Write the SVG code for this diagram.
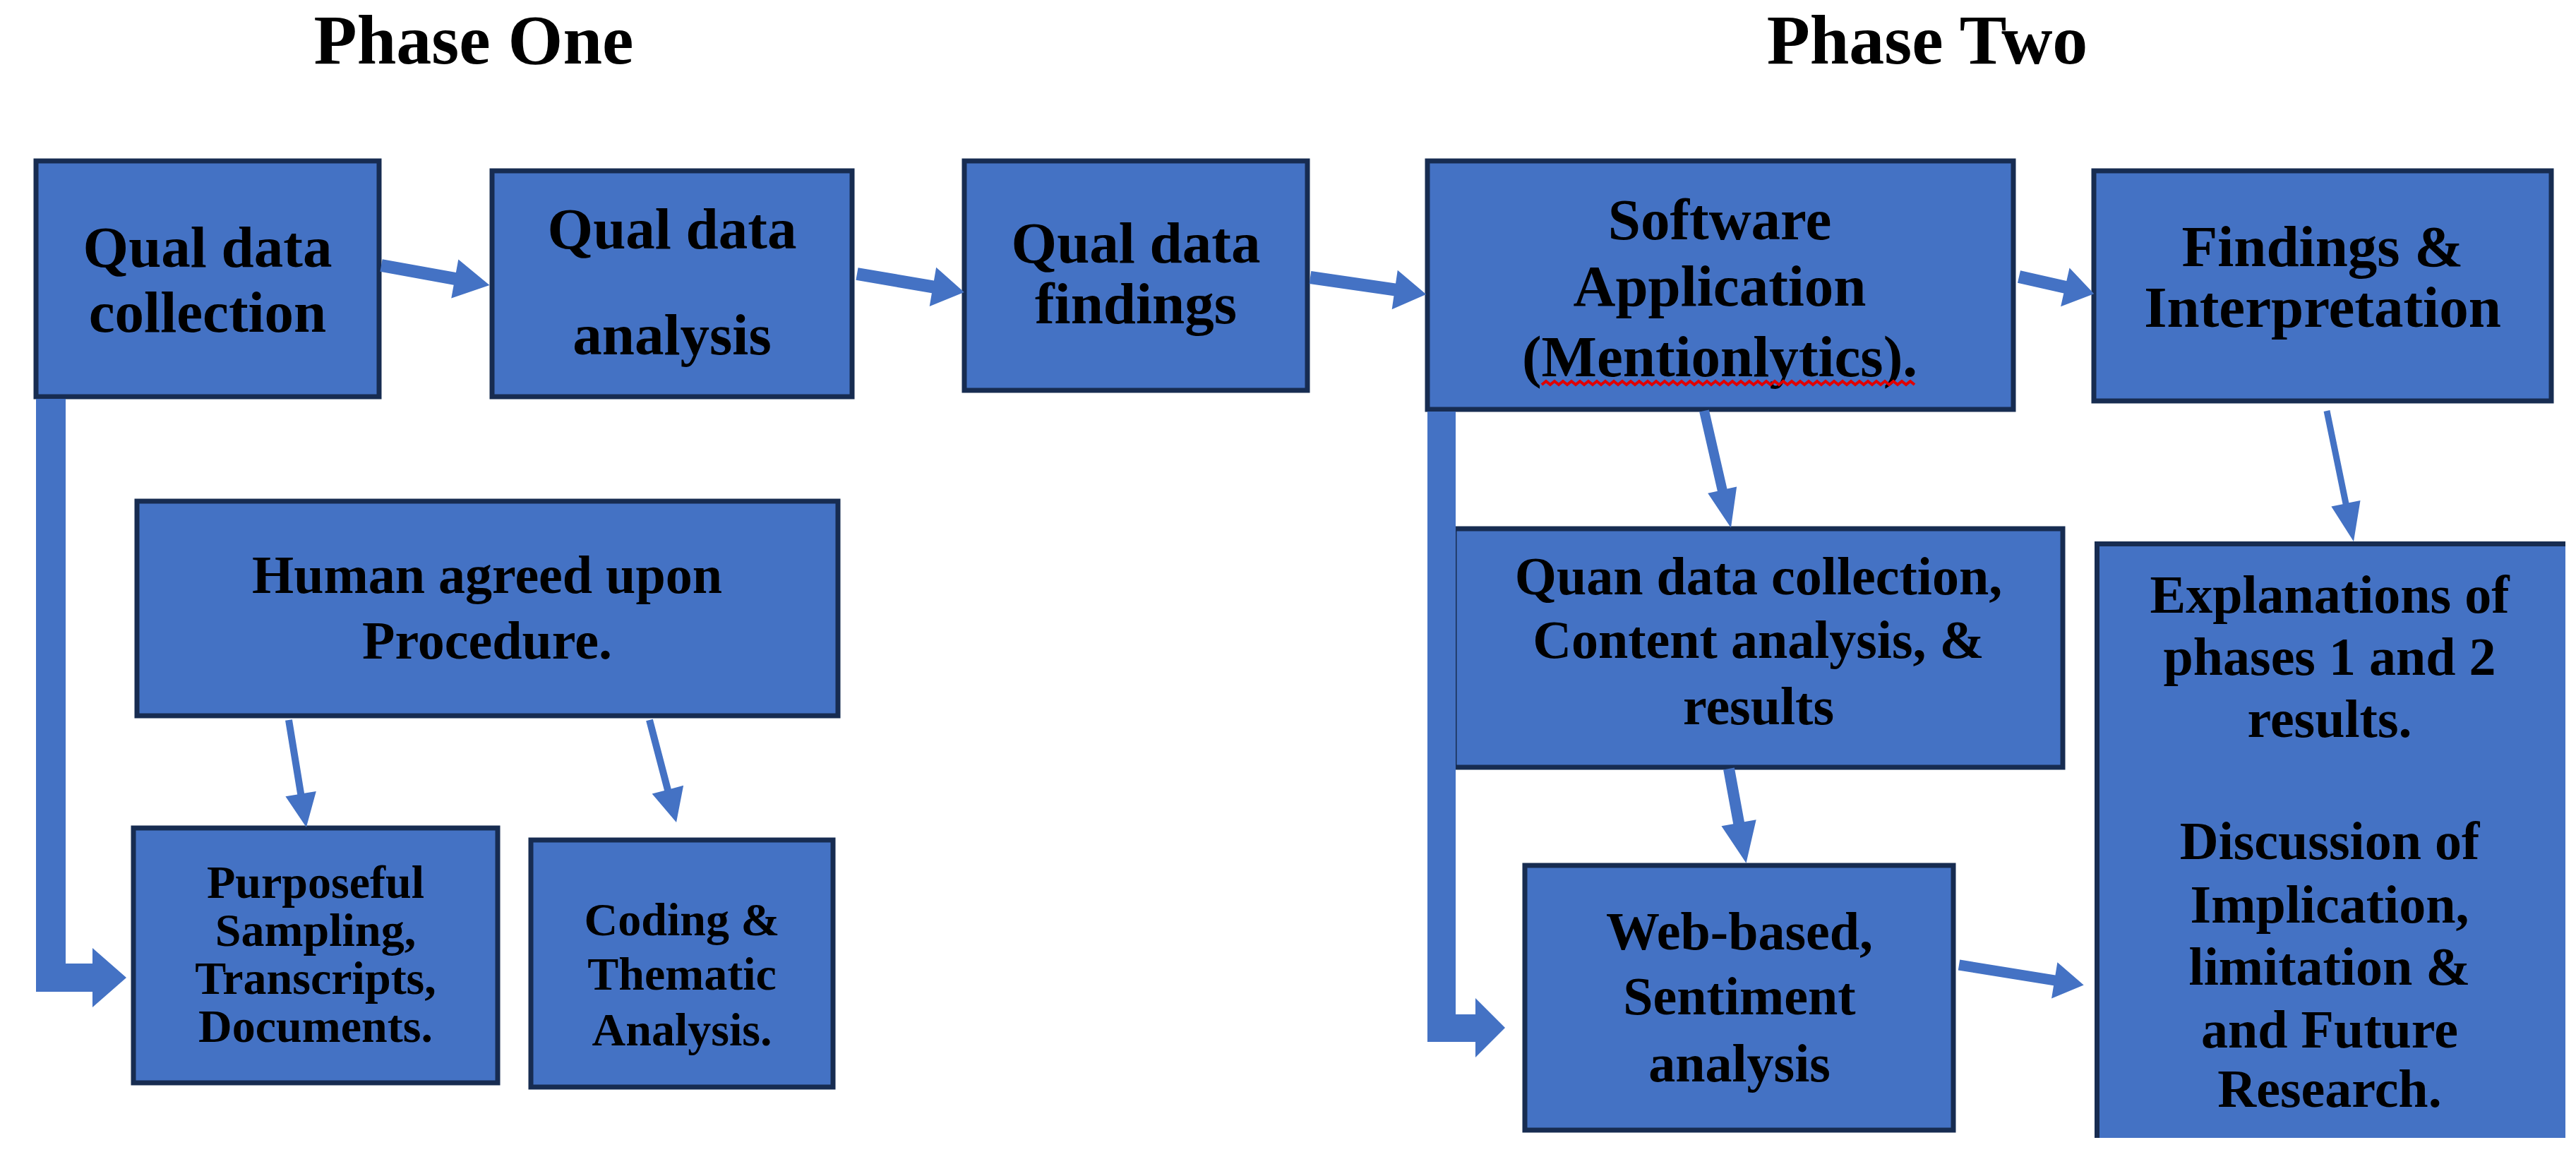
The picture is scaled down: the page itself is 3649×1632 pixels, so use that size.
<svg xmlns="http://www.w3.org/2000/svg" width="3649" height="1632" viewBox="0 0 3649 1632">
<style>
.box{fill:#4472c4;stroke:#172c51;stroke-width:7}
.fill{fill:#4472c4}
.bd{stroke:#172c51;stroke-width:7;fill:none}
.arr{fill:#4472c4}
text{font-family:"Liberation Serif","Times New Roman",serif;font-weight:bold;fill:#000;text-anchor:middle}
.t83{font-size:83px}
.t76{font-size:76px}
.t66{font-size:66px}
.title{font-size:100px}
</style>
<rect width="3649" height="1632" fill="#fff"/>
<g id="titles">
<text class="title" x="671" y="90">Phase One</text>
<text class="title" x="2730" y="90">Phase Two</text>
</g>
<g id="node-qual-collection">
<rect class="box" x="51" y="228" width="486" height="334"/>
<text class="t83" x="294" y="378">Qual data</text>
<text class="t83" x="294" y="470">collection</text>
</g>
<g id="node-qual-analysis">
<rect class="box" x="697" y="242" width="510" height="320"/>
<text class="t83" x="952" y="352">Qual data</text>
<text class="t83" x="952" y="502">analysis</text>
</g>
<g id="node-qual-findings">
<rect class="box" x="1366" y="228" width="486" height="325"/>
<text class="t83" x="1609" y="372">Qual data</text>
<text class="t83" x="1609" y="458">findings</text>
</g>
<g id="node-software">
<rect class="box" x="2022" y="228" width="830" height="352"/>
<text class="t83" x="2436" y="339">Software</text>
<text class="t83" x="2436" y="433">Application</text>
<text class="t83" x="2436" y="533">(Mentionlytics).</text>
<path d="M2184,545 l6,-5 l6,5 l6,-5 l6,5 l6,-5 l6,5 l6,-5 l6,5 l6,-5 l6,5 l6,-5 l6,5 l6,-5 l6,5 l6,-5 l6,5 l6,-5 l6,5 l6,-5 l6,5 l6,-5 l6,5 l6,-5 l6,5 l6,-5 l6,5 l6,-5 l6,5 l6,-5 l6,5 l6,-5 l6,5 l6,-5 l6,5 l6,-5 l6,5 l6,-5 l6,5 l6,-5 l6,5 l6,-5 l6,5 l6,-5 l6,5 l6,-5 l6,5 l6,-5 l6,5 l6,-5 l6,5 l6,-5 l6,5 l6,-5 l6,5 l6,-5 l6,5 l6,-5 l6,5 l6,-5 l6,5 l6,-5 l6,5 l6,-5 l6,5 l6,-5 l6,5 l6,-5 l6,5 l6,-5 l6,5 l6,-5 l6,5 l6,-5 l6,5 l6,-5 l6,5 l6,-5 l6,5 l6,-5 l6,5 l6,-5 l6,5 l6,-5 l6,5 l6,-5 l6,5 l6,-5 l6,5" fill="none" stroke="#e00000" stroke-width="4"/>
</g>
<g id="node-findings-interpretation">
<rect class="box" x="2966" y="242" width="648" height="326"/>
<text class="t83" x="3290" y="377">Findings &amp;</text>
<text class="t83" x="3290" y="463">Interpretation</text>
</g>
<g id="node-human-procedure">
<rect class="box" x="194" y="710" width="993" height="304"/>
<text class="t76" x="690" y="840">Human agreed upon</text>
<text class="t76" x="690" y="933">Procedure.</text>
</g>
<g id="node-purposeful">
<rect class="box" x="189" y="1173" width="516" height="361"/>
<text class="t66" x="447" y="1272">Purposeful</text>
<text class="t66" x="447" y="1340">Sampling,</text>
<text class="t66" x="447" y="1408">Transcripts,</text>
<text class="t66" x="447" y="1476">Documents.</text>
</g>
<g id="node-coding">
<rect class="box" x="752" y="1190" width="428" height="350"/>
<text class="t66" x="966" y="1325">Coding &amp;</text>
<text class="t66" x="966" y="1402">Thematic</text>
<text class="t66" x="966" y="1481">Analysis.</text>
</g>
<g id="node-quan">
<rect class="box" x="2060" y="749" width="862" height="338"/>
<text class="t76" x="2491" y="842">Quan data collection,</text>
<text class="t76" x="2491" y="932">Content analysis, &amp;</text>
<text class="t76" x="2491" y="1026">results</text>
</g>
<g id="node-web">
<rect class="box" x="2160" y="1226" width="607" height="375"/>
<text class="t76" x="2464" y="1345">Web-based,</text>
<text class="t76" x="2464" y="1437">Sentiment</text>
<text class="t76" x="2464" y="1532">analysis</text>
</g>
<g id="node-explanations">
<rect class="fill" x="2967" y="767" width="667" height="845"/>
<path class="bd" d="M2970.5,1612 V770.5 H3634"/>
<text class="t76" x="3300" y="868">Explanations of</text>
<text class="t76" x="3300" y="956">phases 1 and 2</text>
<text class="t76" x="3300" y="1044">results.</text>
<text class="t76" x="3300" y="1217">Discussion of</text>
<text class="t76" x="3300" y="1307">Implication,</text>
<text class="t76" x="3300" y="1395">limitation &amp;</text>
<text class="t76" x="3300" y="1484">and Future</text>
<text class="t76" x="3300" y="1568">Research.</text>
</g>
<g id="connectors">
<polygon class="arr" transform="translate(540,376) rotate(10.3)" points="0,-9 106,-9 106,-28 156,0 106,28 106,9 0,9"/>
<polygon class="arr" transform="translate(1214,388) rotate(9.7)" points="0,-9 109,-9 109,-28 154,0 109,28 109,9 0,9"/>
<polygon class="arr" transform="translate(1856,393) rotate(8.3)" points="0,-9 121,-9 121,-28 166,0 121,28 121,9 0,9"/>
<polygon class="arr" transform="translate(2860,392) rotate(12.8)" points="0,-9 67,-9 67,-28 109,0 67,28 67,9 0,9"/>
<polygon class="arr" transform="translate(2414,582) rotate(77.1)" points="0,-7 115,-7 115,-21 170,0 115,21 115,7 0,7"/>
<polygon class="arr" transform="translate(2449,1089) rotate(79.6)" points="0,-8 78,-8 78,-25 136,0 78,25 78,8 0,8"/>
<polygon class="arr" transform="translate(3296,582) rotate(78.4)" points="0,-4.5 134,-4.5 134,-21 189,0 134,21 134,4.5 0,4.5"/>
<polygon class="arr" transform="translate(2775,1367) rotate(9.2)" points="0,-7.5 137,-7.5 137,-26 179,0 137,26 137,7.5 0,7.5"/>
<polygon class="arr" transform="translate(409,1020) rotate(80.7)" points="0,-5 106,-5 106,-22 154,0 106,22 106,5 0,5"/>
<polygon class="arr" transform="translate(920,1020) rotate(75.3)" points="0,-5 102,-5 102,-23 150,0 102,23 102,5 0,5"/>
<polygon class="arr" points="51,565 93,565 93,1365 131,1365 131,1343 179,1385 131,1427 131,1405 51,1405"/>
<polygon class="arr" points="2022,583 2062,583 2062,1437 2090,1437 2090,1414 2132,1456 2090,1498 2090,1476 2022,1476"/>
</g>
</svg>
